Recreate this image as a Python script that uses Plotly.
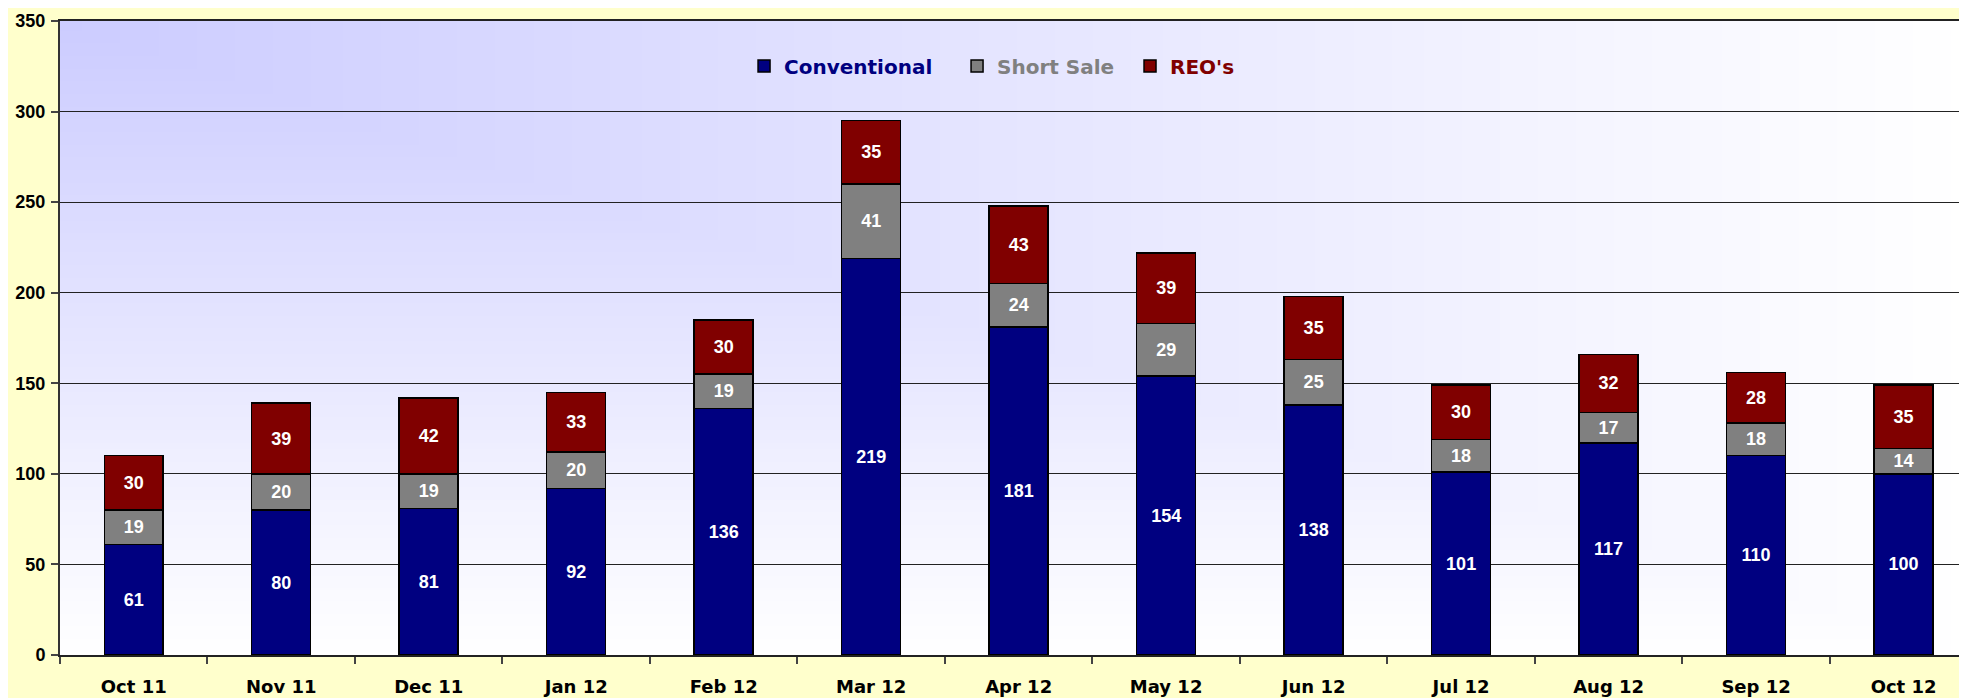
import base64, struct, zlib
import plotly.graph_objects as go

months = ["Oct 11", "Nov 11", "Dec 11", "Jan 12", "Feb 12", "Mar 12", "Apr 12",
          "May 12", "Jun 12", "Jul 12", "Aug 12", "Sep 12", "Oct 12"]
conventional = [61, 80, 81, 92, 136, 219, 181, 154, 138, 101, 117, 110, 100]
short_sale = [19, 20, 19, 20, 19, 41, 24, 29, 25, 18, 17, 18, 14]
reos = [30, 39, 42, 33, 30, 35, 43, 39, 35, 30, 32, 28, 35]
y_ticks = [0, 50, 100, 150, 200, 250, 300, 350]

NAVY, GRAY, MAROON = "#000080", "#808080", "#800000"


def gradient_png(w, h, c0, c1):
    """'From corner' gradient (top-left -> outwards) as a PNG data URI."""
    rows = []
    for j in range(h):
        row = bytearray(b"\x00")
        for i in range(w):
            t = max(i / (w - 1), j / (h - 1))
            row += bytes(int(round(c0[k] + (c1[k] - c0[k]) * t)) for k in range(3))
        rows.append(bytes(row))
    raw = b"".join(rows)

    def chunk(tag, data):
        c = struct.pack(">I", len(data)) + tag + data
        return c + struct.pack(">I", zlib.crc32(tag + data) & 0xFFFFFFFF)

    png = (b"\x89PNG\r\n\x1a\n"
           + chunk(b"IHDR", struct.pack(">IIBBBBB", w, h, 8, 2, 0, 0, 0))
           + chunk(b"IDAT", zlib.compress(raw, 9))
           + chunk(b"IEND", b""))
    return "data:image/png;base64," + base64.b64encode(png).decode()


bg = gradient_png(300, 100, (204, 204, 255), (255, 255, 255))

label_font = dict(family="Liberation Sans, Arial, sans-serif", size=18, color="white")
legend_font = dict(family="Century Gothic, DejaVu Sans, sans-serif", size=20)

series = [("Conventional", conventional, NAVY, "legend", 0.3587),
          ("Short Sale", short_sale, GRAY, "legend2", 0.4704),
          ("REO's", reos, MAROON, "legend3", 0.5611)]

fig = go.Figure()
legends = {}
for name, vals, col, leg, lx in series:
    fig.add_trace(go.Bar(
        x=months, y=vals,
        name=f"<b><span style='color:{col}'>{name}</span></b>",
        legend=leg,
        marker=dict(color=col, line=dict(color="black", width=1.5)),
        text=[f"<b>{v}</b>" for v in vals],
        textposition="inside", insidetextanchor="middle", textangle=0,
        textfont=label_font, constraintext="none",
    ))
    legends[leg] = dict(orientation="h", x=lx, y=0.929, xanchor="left", yanchor="middle",
                        bgcolor="rgba(0,0,0,0)", font=legend_font)

# the page body has an 8px margin, so the figure is sized/offset to compensate
fig.update_layout(
    width=1959, height=690,
    barmode="stack", bargap=0.6,
    paper_bgcolor="#FFFFCC", plot_bgcolor="rgba(0,0,0,0)",
    margin=dict(l=52, r=0, t=13, b=43),
    showlegend=True,
    images=[dict(source=bg, xref="paper", yref="paper", x=0, y=1, sizex=1, sizey=1,
                 sizing="stretch", xanchor="left", yanchor="top", layer="below")],
    **legends,
)
fig.update_xaxes(
    range=[-0.5, 12.43], showgrid=False,
    showline=True, linecolor="#222", linewidth=2, mirror=True,
    ticks="outside", tickson="boundaries", ticklen=7, tickcolor="#444", tickwidth=1.5,
    ticklabelstandoff=14,
    tickfont=dict(family="Century Gothic, DejaVu Sans, sans-serif", size=18, color="black"),
    tickprefix="<b>", ticksuffix="</b>",
)
fig.update_yaxes(
    range=[0, 350], tickvals=y_ticks,
    ticktext=[f"<b>{v}</b>" for v in y_ticks],
    showgrid=True, gridcolor="#222", gridwidth=1, zeroline=False,
    showline=True, linecolor="#333", linewidth=2,
    ticks="outside", ticklen=7, tickcolor="#444", tickwidth=1.5,
    ticklabelstandoff=2,
    tickfont=dict(family="Liberation Sans, Arial, sans-serif", size=18, color="black"),
)

fig.write_html("out.html")
